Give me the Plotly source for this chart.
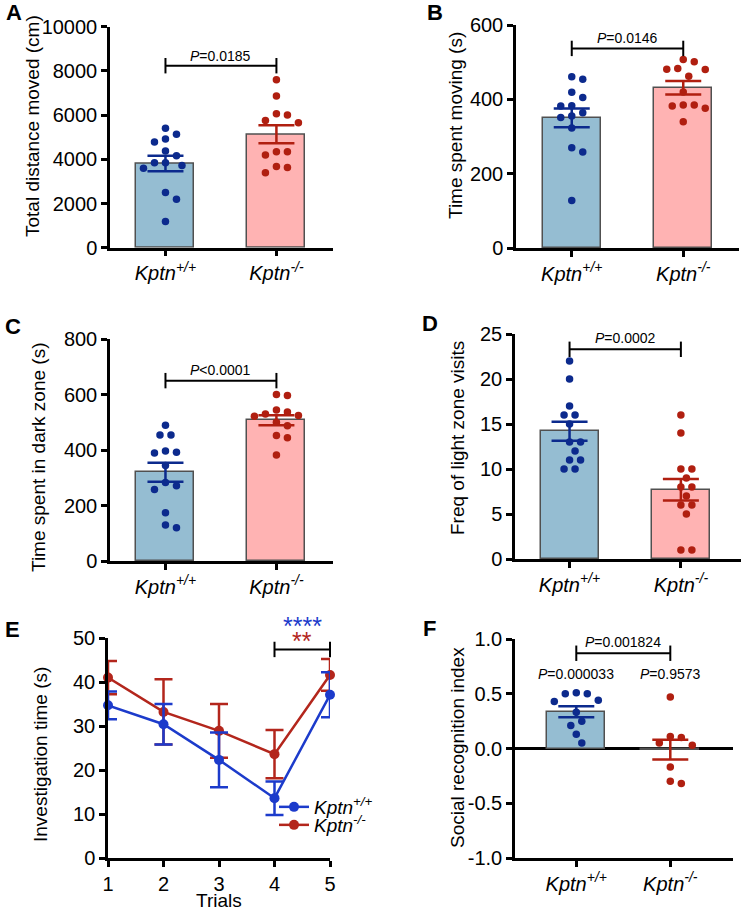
import plotly.graph_objects as go

W, H = 742, 910
FONT = "Arial, Liberation Sans, Helvetica, sans-serif"

# ---------------- data ----------------
genotype_ticks = ["<i>Kptn<sup>+/+</sup></i>", "<i>Kptn<sup>-/-</sup></i>"]

# A: total distance moved (cm)
dist_wt = [5400, 5130, 4920, 4780, 4380, 4160, 3840, 3840, 3720, 3600, 2500, 2190, 1190]
dist_ko = [7600, 6860, 6060, 6000, 5760, 5650, 4340, 4340, 4190, 3670, 3630, 3390]
dist_mean = [3810, 5130]
dist_sem = [347, 407]
dist_p = "<i>P</i>=0.0185"

# B: time spent moving (s)
move_wt = [461, 454, 419, 405, 383, 382, 364, 355, 351, 323, 270, 258, 128]
move_ko = [507, 501, 483, 481, 480, 462, 420, 385, 385, 382, 376, 340]
move_mean = [350, 431]
move_sem = [25, 18]
move_p = "<i>P</i>=0.0146"

# C: time spent in dark zone (s)
dark_wt = [489, 454, 454, 396, 392, 389, 344, 283, 271, 258, 174, 130, 120]
dark_ko = [600, 596, 544, 537, 530, 524, 522, 500, 487, 452, 444, 382]
dark_mean = [320, 507]
dark_sem = [34, 18]
dark_p = "<i>P</i>&lt;0.0001"

# D: frequency of light zone visits
visits_wt = [22, 20, 17, 16, 16, 15, 13, 13, 12, 11, 11, 10, 10]
visits_ko = [16, 14, 10, 10, 9, 8, 8, 7, 6, 6, 5, 1, 1]
visits_mean = [14.2, 7.7]
visits_sem = [1.05, 1.2]
visits_p = "<i>P</i>=0.0002"

# E: investigation time (s) over trials
trials = [1, 2, 3, 4, 5]
inv_wt_mean = [34.7, 30.4, 22.3, 13.6, 37.1]
inv_wt_sem = [3.15, 4.6, 6.2, 3.8, 5.1]
inv_ko_mean = [41.0, 33.2, 28.9, 23.6, 41.6]
inv_ko_sem = [3.8, 7.4, 6.1, 5.5, 3.6]
inv_stars = ["****", "**"]

# F: social recognition index
sri_wt = [0.51, 0.50, 0.50, 0.44, 0.43, 0.33, 0.25, 0.21, 0.13, 0.05]
sri_ko = [0.47, 0.11, 0.10, 0.05, 0.03, -0.17, -0.30, -0.32]
sri_mean = [0.336, -0.01]
sri_sem = [0.05, 0.09]
sri_p_between = "<i>P</i>=0.001824"
sri_p_groups = ["<i>P</i>=0.000033", "<i>P</i>=0.9573"]

# ---------------- style ----------------
BAR_FILL = ["#95bdd2", "#ffb3b3"]
DOT = ["#0c2a8d", "#b01f10"]
LINE_E = ["#1c3bcb", "#b3261c"]
EDGE = "#505050"
AXW = 2.5
TICKF = 20

# panel layout (pixel boxes of plotting areas)
P = {
    1: dict(xpx=(110, 333), ypx=(26.7, 247.7), xr=[-0.5, 1.51], yr=[0, 10000],
            yt=[0, 2000, 4000, 6000, 8000, 10000], yfmt="{:d}", title="Total distance moved (cm)",
            tpos=(33, 126), letter="A", lpos=(14, 13)),
    2: dict(xpx=(516, 739), ypx=(25, 248), xr=[-0.5, 1.5], yr=[0, 600],
            yt=[0, 200, 400, 600], yfmt="{:d}", title="Time spent moving (s)",
            tpos=(456, 126), letter="B", lpos=(435, 13)),
    3: dict(xpx=(110, 333), ypx=(339, 561), xr=[-0.5, 1.51], yr=[0, 800],
            yt=[0, 200, 400, 600, 800], yfmt="{:d}", title="Time spent in dark zone (s)",
            tpos=(38, 457), letter="C", lpos=(13, 326)),
    4: dict(xpx=(515, 741), ypx=(334, 559), xr=[-0.49, 1.54], yr=[0, 25],
            yt=[0, 5, 10, 15, 20, 25], yfmt="{:d}", title="Freq of light zone visits",
            tpos=(457, 438), letter="D", lpos=(430, 323)),
    5: dict(xpx=(108, 330), ypx=(638, 858), xr=[1, 5], yr=[0, 50],
            yt=[0, 10, 20, 30, 40, 50], yfmt="{:d}", title="Investigation time (s)",
            tpos=(40, 755), letter="E", lpos=(12, 629)),
    6: dict(xpx=(515, 733), ypx=(639, 858), xr=[-0.652, 1.667], yr=[-1, 1],
            yt=[-1, -0.5, 0, 0.5, 1], yfmt="{:.1f}", title="Social recognition index",
            tpos=(457, 748), letter="F", lpos=(429, 628)),
}


def ppu_x(p):
    return (p["xpx"][1] - p["xpx"][0]) / (p["xr"][1] - p["xr"][0])


def ppu_y(p):
    return (p["ypx"][1] - p["ypx"][0]) / (p["yr"][1] - p["yr"][0])


def paper_y(p, v):
    py = p["ypx"][1] - (v - p["yr"][0]) * ppu_y(p)
    return 1 - py / H


def swarm(values, p, dot_px=10.0, step_px=5.5):
    """Simple beeswarm: offsets (data units) so dots do not overlap."""
    xs, ys = ppu_x(p), ppu_y(p)
    cands = sorted({k * step_px for k in range(-10, 11)}, key=lambda c: (abs(c), -c))
    placed, offs = [], [0.0] * len(values)
    for i in sorted(range(len(values)), key=lambda i: -values[i]):
        y = values[i] * ys
        for c in cands:
            if all((c - a) ** 2 + (y - b) ** 2 >= dot_px ** 2 for a, b in placed):
                break
        placed.append((c, y))
        offs[i] = c / xs
    return offs


fig = go.Figure()
annotations = []
layout = {}


def axis_ids(n):
    return ("x" if n == 1 else f"x{n}"), ("y" if n == 1 else f"y{n}")


def setup_axes(n, xtickvals, xticktext, zeroline=False):
    p = P[n]
    xa, ya = axis_ids(n)
    common = dict(showline=True, linecolor="black", linewidth=AXW, ticks="outside",
                  ticklen=6, tickwidth=AXW, tickcolor="black", showgrid=False, automargin=False,
                  tickfont=dict(size=TICKF, color="black", family=FONT), fixedrange=True)
    layout["xaxis" if n == 1 else f"xaxis{n}"] = dict(
        domain=[p["xpx"][0] / W, p["xpx"][1] / W], range=p["xr"], anchor=ya,
        tickmode="array", tickvals=xtickvals, ticktext=xticktext, zeroline=False, **common)
    layout["yaxis" if n == 1 else f"yaxis{n}"] = dict(
        domain=[1 - p["ypx"][1] / H, 1 - p["ypx"][0] / H], range=p["yr"], anchor=xa,
        tickmode="array", tickvals=p["yt"],
        ticktext=[p["yfmt"].format(v) for v in p["yt"]],
        zeroline=zeroline, zerolinecolor="black", zerolinewidth=AXW, **common)
    annotations.append(dict(text=p["title"], x=p["tpos"][0] / W, y=1 - p["tpos"][1] / H,
                            xref="paper", yref="paper", textangle=-90, showarrow=False,
                            font=dict(size=19, color="black"), xanchor="center", yanchor="middle"))
    annotations.append(dict(text=f"<b>{p['letter']}</b>", x=p["lpos"][0] / W, y=1 - p["lpos"][1] / H,
                            xref="paper", yref="paper", showarrow=False,
                            font=dict(size=22, color="black"), xanchor="center", yanchor="middle"))


def bracket(n, x0, x1, yv):
    xa, ya = axis_ids(n)
    fig.add_trace(go.Scatter(x=[x0, x1], y=[yv, yv], mode="lines+markers", xaxis=xa, yaxis=ya,
                             line=dict(color="black", width=2),
                             marker=dict(symbol="line-ns", size=11, line=dict(color="black", width=2)),
                             cliponaxis=False, showlegend=False, hoverinfo="skip"))


def text_at(n, x, yv, txt, size=14, color="black"):
    xa, ya = axis_ids(n)
    annotations.append(dict(text=txt, x=x, y=yv, xref=xa, yref=ya, showarrow=False,
                            font=dict(size=size, color=color), xanchor="center", yanchor="middle"))


def bar_panel(n, groups, means, sems, ptext, ybr, ytxt, zeroline=False):
    p = P[n]
    xa, ya = axis_ids(n)
    bw = 58 / ppu_x(p)
    for g in range(2):
        fig.add_trace(go.Bar(x=[g], y=[means[g]], width=bw, xaxis=xa, yaxis=ya,
                             marker=dict(color=BAR_FILL[g], line=dict(color=EDGE, width=1.5)),
                             error_y=dict(type="data", array=[sems[g]], color=DOT[g],
                                          thickness=2.5, width=18),
                             showlegend=False, hoverinfo="skip"))
    for g in range(2):
        offs = swarm(groups[g], p)
        fig.add_trace(go.Scatter(x=[g + o for o in offs], y=groups[g], mode="markers",
                                 xaxis=xa, yaxis=ya, cliponaxis=False,
                                 marker=dict(size=7.5, color=DOT[g]),
                                 showlegend=False, hoverinfo="skip"))
    bracket(n, 0, 1, ybr)
    text_at(n, 0.5, ytxt, ptext)
    setup_axes(n, [0, 1], genotype_ticks, zeroline=zeroline)


bar_panel(1, [dist_wt, dist_ko], dist_mean, dist_sem, dist_p, 8235, 8673)
bar_panel(2, [move_wt, move_ko], move_mean, move_sem, move_p, 537, 564)
bar_panel(3, [dark_wt, dark_ko], dark_mean, dark_sem, dark_p, 650, 688)
bar_panel(4, [visits_wt, visits_ko], visits_mean, visits_sem, visits_p, 23.3, 24.6)
bar_panel(6, [sri_wt, sri_ko], sri_mean, sri_sem, sri_p_between, 0.87, 0.977, zeroline=True)
for g in range(2):
    text_at(6, g, 0.68, sri_p_groups[g])

# ---- panel E ----
for g, (m, s) in [(1, (inv_ko_mean, inv_ko_sem)), (0, (inv_wt_mean, inv_wt_sem))]:
    fig.add_trace(go.Scatter(x=trials, y=m, mode="lines+markers", xaxis="x5", yaxis="y5",
                             name=genotype_ticks[g], legend="legend" if g == 0 else "legend2",
                             line=dict(color=LINE_E[g], width=2.5),
                             marker=dict(size=10, color=LINE_E[g]),
                             error_y=dict(type="data", array=s, color=LINE_E[g], thickness=2.5, width=9),
                             cliponaxis=False, hoverinfo="skip"))
bracket(5, 4, 5, 47.4)
for g, v in [(0, 52.8), (1, 49.3)]:
    annotations.append(dict(text=inv_stars[g], x=4.5, y=paper_y(P[5], v), xref="x5", yref="paper",
                            showarrow=False, font=dict(size=25, color=LINE_E[g]),
                            xanchor="center", yanchor="middle"))
setup_axes(5, trials, [str(t) for t in trials])
annotations.append(dict(text="Trials", x=219 / W, y=1 - 900 / H, xref="paper", yref="paper",
                        showarrow=False, font=dict(size=19, color="black"),
                        xanchor="center", yanchor="middle"))

leg_common = dict(xanchor="left", yanchor="middle", bgcolor="rgba(0,0,0,0)", borderwidth=0,
                  itemwidth=30, font=dict(size=19, color="black", family=FONT))
layout["legend"] = dict(x=274 / W, y=1 - 807 / H, **leg_common)
layout["legend2"] = dict(x=274 / W, y=1 - 825 / H, **leg_common)

fig.update_layout(template="none", width=W, height=H, autosize=False,
                  margin=dict(l=0, r=0, t=0, b=0, pad=0, autoexpand=False),
                  paper_bgcolor="white", plot_bgcolor="white", bargap=0,
                  font=dict(family=FONT, color="black"), annotations=annotations, **layout)

fig.write_html("out.html", config={"displayModeBar": False},
               post_script="document.body.style.margin='0px';")
